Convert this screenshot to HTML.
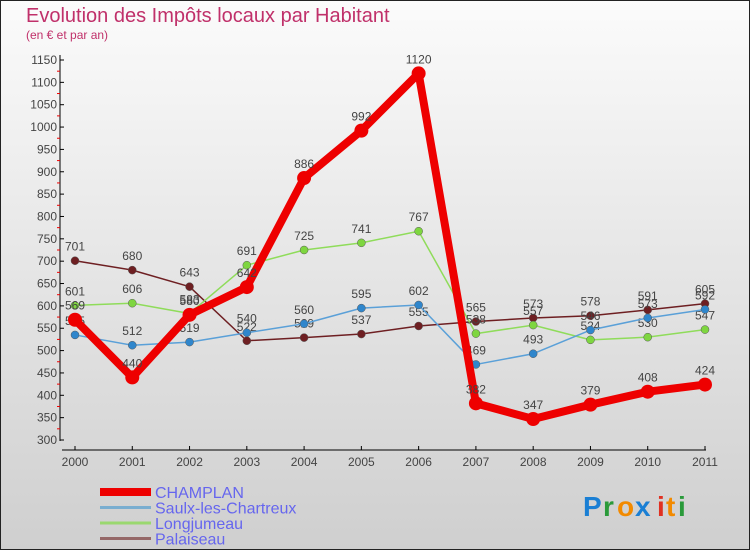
<!DOCTYPE html>
<html><head><meta charset="utf-8"><style>
body{margin:0;}
svg text{font-family:"Liberation Sans",sans-serif;}
</style></head><body>
<svg width="750" height="550" xmlns="http://www.w3.org/2000/svg">
<defs><linearGradient id="bg" x1="0" y1="0" x2="0" y2="1"><stop offset="0" stop-color="#fbfbfb"/><stop offset="1" stop-color="#cfcfcf"/></linearGradient></defs>
<rect x="0.5" y="0.5" width="749" height="549" fill="url(#bg)" stroke="#222"/>
<text x="26" y="22" font-size="20" fill="#c0306a">Evolution des Impôts locaux par Habitant</text>
<text x="26" y="39" font-size="12" fill="#c0306a">(en € et par an)</text>
<g id="axes"></g>
<g id="series"></g>
<g id="legend"></g>
<g font-size="28" font-weight="bold">
<text x="583" y="516" fill="#1a7fd4">P</text><text x="603" y="516" fill="#2a9a3a">r</text><text x="617" y="516" fill="#f28a00">o</text><text x="635" y="516" fill="#1a7fd4">x</text><text x="657" y="516" fill="#e03020">i</text><text x="666" y="516" fill="#f28a00">t</text><text x="678" y="516" fill="#2a9a3a">i</text>
</g>
</svg>
<script>
const years=[2000,2001,2002,2003,2004,2005,2006,2007,2008,2009,2010,2011];
const champlan=[569,440,580,642,886,992,1120,382,347,379,408,424];
const saulx=[535,512,519,540,560,595,602,469,493,546,573,592];
const longjumeau=[601,606,583,691,725,741,767,538,557,524,530,547];
const palaiseau=[701,680,643,522,529,537,555,565,573,578,591,605];
const yTicks=[300,350,400,450,500,550,600,650,700,750,800,850,900,950,1000,1050,1100,1150];
const NS="http://www.w3.org/2000/svg";
const X=i=>75+i*(630/11);
const Y=v=>440-(v-300)*(380/850);
function mk(tag,attrs,parent){const e=document.createElementNS(NS,tag);for(const k in attrs)e.setAttribute(k,attrs[k]);parent.appendChild(e);return e;}
const axes=document.getElementById('axes');
let a=mk('line',{x1:60,y1:55,x2:60,y2:441,stroke:'#000'},axes);


a=mk('line',{x1:62,y1:450,x2:706,y2:450,stroke:'#000'},axes);


yTicks.forEach((v,i)=>{
 mk('line',{x1:60,y1:Y(v),x2:64,y2:Y(v),stroke:'#000'},axes);
 if(i<yTicks.length-1)mk('line',{x1:57,y1:Y(v+25),x2:60,y2:Y(v+25),stroke:'#e00'},axes);
 const t=mk('text',{x:57,y:Y(v)+4,'font-size':12,'text-anchor':'end',fill:'#444'},axes);
 t.textContent=v;
 
 
});
years.forEach((y,i)=>{
 mk('line',{x1:X(i),y1:446,x2:X(i),y2:450,stroke:'#000'},axes);
 const t=mk('text',{x:X(i),y:466,'font-size':12,'text-anchor':'middle',fill:'#444'},axes);
 t.textContent=y;
 
 
});
const ser=document.getElementById('series');
const defs=[
 {name:'palaiseau',data:palaiseau,col:'#6e1f22',w:1.5,r:4},
 {name:'longjumeau',data:longjumeau,col:'#8fdc5a',w:1.5,r:4},
 {name:'saulx',data:saulx,col:'#5aa0d8',w:1.5,r:4},
 {name:'champlan',data:champlan,col:'#ee0000',w:8,r:7}
];
defs.forEach(s=>{
 const g=mk('g',{},ser);
 
 
 const p=mk('polyline',{points:s.data.map((v,i)=>X(i)+','+Y(v)).join(' '),fill:'none',stroke:s.col,'stroke-width':s.w,'stroke-linejoin':'round'},g);
 
 
 s.data.forEach((v,i)=>{
  const c=mk('circle',{cx:X(i),cy:Y(v),r:s.r,fill:s.name==='palaiseau'?'#6e1f22':s.name==='saulx'?'#2f86cc':s.name==='longjumeau'?'#7ed640':'#ee0000',stroke:s.name==='champlan'?'none':'#555','stroke-width':0.5},g);
  
  
  const t=mk('text',{x:X(i),y:Y(v)-10,'font-size':12,'text-anchor':'middle',fill:'#444'},g);
  t.textContent=v;
  
  
 });
});
const leg=document.getElementById('legend');
[['CHAMPLAN','#ee0000',8],['Saulx-les-Chartreux','#7aaed0',3],['Longjumeau','#9ad870',3],['Palaiseau','#956868',3]].forEach((d,i)=>{
 const y=492+i*15.5;
 const g=mk('g',{},leg);
 
 
 mk('line',{x1:100,y1:y,x2:151,y2:y,stroke:d[1],'stroke-width':d[2]},g);
 const t=mk('text',{x:155,y:y+6,'font-size':16,fill:'#6666ee'},g);
 t.textContent=d[0];
});
</script>
</body></html>
